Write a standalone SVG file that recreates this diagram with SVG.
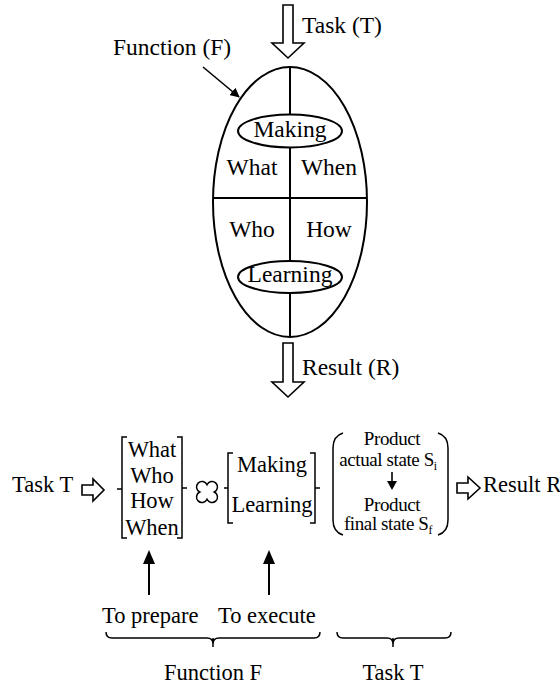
<svg xmlns="http://www.w3.org/2000/svg" width="560" height="685" viewBox="0 0 560 685">
<style>
text{font-family:'Liberation Serif','DejaVu Serif','Times New Roman',serif;font-size:22.5px;fill:#000}
.c{text-anchor:middle}
.b{font-size:23.5px}
.s{font-size:19px;letter-spacing:-0.4px}
.ln{fill:none;stroke:#000;stroke-width:2}
.th{fill:none;stroke:#000;stroke-width:1.5}
.ha{fill:#fff;stroke:#000;stroke-width:1.6;stroke-linejoin:miter}
</style>
<defs>
<marker id="ah" viewBox="0 0 10 10" refX="9" refY="5" markerWidth="6" markerHeight="6" orient="auto" markerUnits="strokeWidth">
<path d="M0,0 L10,5 L0,10 Z" fill="#000"/>
</marker>
</defs>
<g font-family="Liberation Serif, DejaVu Serif, serif">
<g id="function-ellipse">
<ellipse class="ln" cx="290" cy="202" rx="77" ry="135"/>
<line class="ln" x1="213" y1="198" x2="367" y2="198"/>
<line class="ln" x1="290" y1="67" x2="290" y2="114"/>
<line class="ln" x1="290" y1="147" x2="290" y2="261"/>
<line class="ln" x1="290" y1="293" x2="290" y2="337"/>
<text class="c b" x="252" y="175">What</text>
<text class="c b" x="329" y="175">When</text>
<text class="c b" x="252" y="237">Who</text>
<text class="c b" x="329" y="237">How</text>
</g>
<g id="making">
<ellipse class="ln" cx="290" cy="131" rx="52" ry="16.5"/>
<text class="c b" x="290" y="137">Making</text>
</g>
<g id="learning">
<ellipse class="ln" cx="290" cy="277" rx="52" ry="16"/>
<text class="c b" x="290" y="282">Learning</text>
</g>
<g id="task-top">
<polygon class="ha" points="283,5 293,5 293,43 304,43 288,58 272,43 283,43"/>
<text class="b" x="302" y="33">Task (T)</text>
</g>
<g id="function-label">
<text class="b" x="113" y="55">Function (F)</text>
</g>
<g id="result-top">
<polygon class="ha" points="283,343 293,343 293,382 304,382 288,397 272,382 283,382"/>
<text class="b" x="302" y="375">Result (R)</text>
</g>
<g id="task-left">
<text x="12" y="492">Task T</text>
<polygon class="ha" points="82,485 93,485 93,479 104,490 93,501 93,495 82,495"/>
</g>
<g id="bracket-prepare">
<path class="th" d="M127,437 H122 V538 H127 M117,489 H122 M177,437 H182 V538 H177 M182,488 H187"/>
<text class="c" x="152" y="457">What</text>
<text class="c" x="152" y="483">Who</text>
<text class="c" x="152" y="508">How</text>
<text class="c" x="152" y="535">When</text>
</g>
<g id="times-symbol">
<path class="th" d="M207,484.7 A5.5,5.5 0 1 1 214.3,492 A5.5,5.5 0 1 1 207,499.3 A5.5,5.5 0 1 1 199.7,492 A5.5,5.5 0 1 1 207,484.7 Z"/>
</g>
<g id="bracket-execute">
<path class="th" d="M233,453 H228 V523 H233 M224,488 H228 M310,453 H315 V523 H310 M315,488 H320"/>
<text class="c" x="272" y="472">Making</text>
<text class="c" x="272" y="512">Learning</text>
</g>
<g id="product-states">
<path class="th" d="M343,433 Q333,436 333,448 V520 Q333,532 343,535 M438,433 Q448,436 448,448 V520 Q448,532 438,535"/>
<text class="c s" x="392" y="445">Product</text>
<text class="c s" x="388" y="466">actual state S<tspan font-size="12" dy="4">i</tspan></text>
<text class="c s" x="392" y="511">Product</text>
<text class="c s" x="388" y="530">final state S<tspan font-size="12" dy="4">f</tspan></text>
</g>
<g id="result-right">
<polygon class="ha" points="457,483 468,483 468,477 480,488 468,499 468,493 457,493"/>
<text x="483" y="492">Result R</text>
</g>
<g id="labels-bottom">
<text x="102" y="623">To prepare</text>
<text x="218" y="623">To execute</text>
<text class="c" x="213" y="680">Function F</text>
<text class="c" x="393" y="680">Task T</text>
</g>
</g>
<g id="connectors">
<line x1="203" y1="67" x2="239" y2="97" stroke="#000" stroke-width="1.6" marker-end="url(#ah)"/>
<line x1="392" y1="472" x2="392" y2="482" stroke="#000" stroke-width="1.6"/>
<polygon points="387,481 397,481 392,490" fill="#000"/>
<line x1="149" y1="595" x2="149" y2="562" stroke="#000" stroke-width="2"/>
<polygon points="143,564 155,564 149,550" fill="#000"/>
<line x1="269" y1="595" x2="269" y2="562" stroke="#000" stroke-width="2"/>
<polygon points="263,564 275,564 269,550" fill="#000"/>
<path class="th" d="M106,632 Q106,638 112,638 H207 Q213,638 213,644 Q213,638 219,638 H314 Q320,638 320,632 M213,638 V647"/>
<path class="th" d="M337,632 Q337,638 343,638 H387 Q393,638 393,644 Q393,638 399,638 H445 Q451,638 451,632 M393,638 V647"/>
</g>
</svg>
